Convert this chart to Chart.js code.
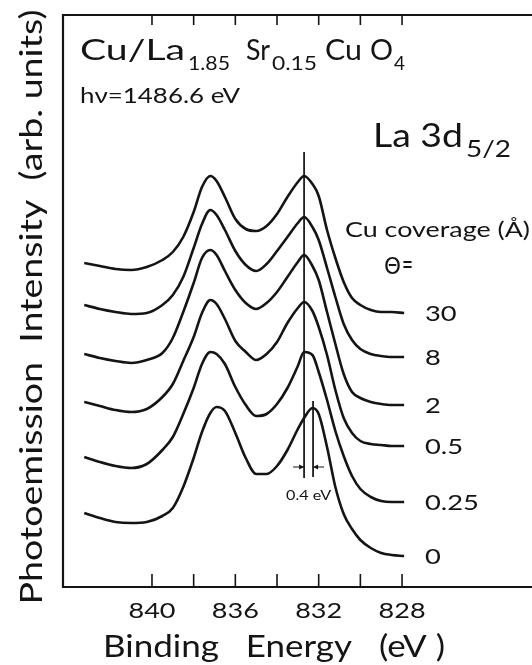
<!DOCTYPE html>
<html>
<head>
<meta charset="utf-8">
<script src="https://cdn.jsdelivr.net/npm/chart.js@4.4.0/dist/chart.umd.min.js"></script>
<style>
html, body { margin:0; padding:0; overflow:hidden; background:#fff; }
#wrap { width:545px; height:665px; }
</style>
</head>
<body>
<div id="wrap"><canvas id="chart"></canvas></div>
<script>
// ================= DATA =================
// binding energy grid (eV), shared by every spectrum
const energy = [843.25, 842.5, 841.75, 841.0, 840.25, 839.5, 839.0, 838.5, 838.0, 837.6,
                837.2, 836.9, 836.5, 836.0, 835.5, 835.0, 834.5, 834.0, 833.5, 833.0,
                832.7, 832.3, 832.0, 831.6, 831.2, 830.8, 830.4, 830.0, 829.5, 829.0,
                828.5, 827.9];

// Cu coverage labels, top to bottom
const coverage = ["30", "8", "2", "0.5", "0.25", "0"];

// intensity (arb. units, offset stack) for each coverage
const int30  = [324, 321, 318, 317, 320, 327, 335, 350, 375, 400, 411, 406, 390, 368, 358, 356,
                361, 373, 390, 405, 411, 403, 391, 357, 329, 305, 289, 282, 277, 275, 275, 274];
const int8   = [282, 278, 275, 273, 274, 282, 292, 310, 339, 363, 377, 372, 357, 336, 322, 316,
                323, 336, 350, 364, 370, 360, 347, 319, 290, 263, 247, 238, 233, 231, 230, 230];
const int2   = [233, 229, 226, 224, 227, 234, 249, 275, 304, 329, 337, 332, 316, 297, 284, 278,
                284, 295, 310, 325, 332, 321, 307, 275, 243, 213, 195, 189, 185, 183, 182, 182];
const int05  = [185, 181, 177, 175, 178, 190, 203, 226, 250, 274, 287, 283, 268, 246, 235, 227,
                233, 245, 264, 279, 285, 276, 260, 232, 197, 169, 154, 146, 143, 142, 141, 141];
const int025 = [130, 125, 121, 119, 123, 137, 150, 173, 199, 223, 235, 233, 223, 200, 182, 171,
                173, 183, 199, 221, 235, 232, 215, 187, 156, 131, 111,  98,  90,  86,  85,  85];
const int0   = [ 74,  69,  65,  64,  65,  71,  79, 100, 129, 155, 174, 180, 176, 154, 129, 113,
                113, 121, 137, 158, 169, 179, 173, 140, 100,  73,  58,  47,  39,  34,  32,  31];

const spectra = [int30, int8, int2, int05, int025, int0];

// axis ticks
const tickEnergies = [840, 838, 836, 834, 832, 830, 828];
const tickLabels   = ["840", "", "836", "", "832", "", "828"];

// peak shift markers (eV) and their vertical extents
const shiftRef   = 832.7;
const shiftClean = 832.27;
const refLineY   = [435, 109];
const cleanLineY = [186, 110];
const arrowY     = 120;
const shiftText  = "0.4 eV";

// ================= CHART =================
const INK = "#141414";
const FONT = 'Lato, "Liberation Sans", Arial, sans-serif';

function put(ctx, str, x, y, size, opts = {}){
    ctx.save();
    ctx.font = (opts.weight || 400) + " " + size + "px " + (opts.family || FONT);
    ctx.textAlign = "left";
    ctx.textBaseline = opts.base || "alphabetic";
    const w = ctx.measureText(str).width;
    let sx = opts.sx || 1;
    if(opts.width) sx = opts.width / w;
    ctx.translate(x, y);
    if(opts.rot) ctx.rotate(opts.rot);
    ctx.scale(sx, 1);
    ctx.fillText(str, opts.align === "center" ? -w / 2 : 0, 0);
    ctx.restore();
}

function seg(ctx, x1, y1, x2, y2){
    ctx.beginPath();
    ctx.moveTo(x1, y1);
    ctx.lineTo(x2, y2);
    ctx.stroke();
}

const overlay = {
    id: "overlay",
    afterDraw(chart){
        const { ctx, chartArea: a, scales: { x, y } } = chart;
        ctx.save();
        ctx.strokeStyle = INK;
        ctx.fillStyle = INK;

        // frame
        ctx.lineWidth = 2.2;
        ctx.beginPath();
        ctx.moveTo(a.right + 10, a.top);
        ctx.lineTo(a.left, a.top);
        ctx.lineTo(a.left, a.bottom);
        ctx.lineTo(a.right + 10, a.bottom);
        ctx.stroke();

        // inward ticks + labels
        ctx.lineWidth = 1.6;
        tickEnergies.forEach((e, i) => {
            const px = x.getPixelForValue(e);
            seg(ctx, px, a.bottom, px, a.bottom - 13);
            seg(ctx, px, a.top, px, a.top + 10);
            if(tickLabels[i]) put(ctx, tickLabels[i], px, 618, 21, { align: "center", width: 47 });
        });

        // axis titles
        put(ctx, "Binding   Energy   (eV )", 274, 657, 30, { align: "center", width: 342 });
        put(ctx, "Photoemission  Intensity  (arb. units)", 42, 307, 31,
            { align: "center", width: 595, rot: -Math.PI / 2 });

        // sample title
        put(ctx, "Cu/La", 80, 60, 28, { width: 105 });
        put(ctx, "1.85", 188, 70, 20, { width: 42 });
        put(ctx, "Sr", 246, 60, 28, { width: 24 });
        put(ctx, "0.15", 272, 70, 20, { width: 45 });
        put(ctx, "Cu", 325, 60, 28, { width: 37 });
        put(ctx, "O", 370, 60, 28, { width: 23 });
        put(ctx, "4", 394, 70, 20, { width: 11 });
        put(ctx, "h\u03bd=1486.6 eV", 80, 103, 21, { width: 160 });

        put(ctx, "La 3d", 373, 147, 33, { width: 90 });
        put(ctx, "5/2", 466, 157, 23, { width: 45 });

        put(ctx, "Cu coverage (\u00c5)", 345, 237, 21, { width: 185 });
        put(ctx, "\u0398", 384, 274, 23, { width: 17, family: '"DejaVu Sans", sans-serif' });
        put(ctx, "=", 402, 272, 23, { width: 11, family: '"DejaVu Sans", sans-serif' });

        // coverage labels at the tail of each spectrum
        spectra.forEach((s, i) => {
            const py = y.getPixelForValue(s[s.length - 1]);
            put(ctx, coverage[i], x.getPixelForValue(826.9), py + 1, 21, { base: "middle", sx: 1.3 });
        });

        // 0.4 eV arrows
        ctx.lineWidth = 1;
        const ay = y.getPixelForValue(arrowY);
        const xr = x.getPixelForValue(shiftRef);
        const xc = x.getPixelForValue(shiftClean);
        seg(ctx, xr - 11, ay, xr, ay);
        seg(ctx, xc, ay, xc + 11, ay);
        ctx.beginPath();
        ctx.moveTo(xr, ay); ctx.lineTo(xr - 5, ay - 2.5); ctx.lineTo(xr - 5, ay + 2.5); ctx.closePath();
        ctx.moveTo(xc, ay); ctx.lineTo(xc + 5, ay - 2.5); ctx.lineTo(xc + 5, ay + 2.5); ctx.closePath();
        ctx.fill();
        put(ctx, shiftText, (xr + xc) / 2, y.getPixelForValue(92), 14, { align: "center", base: "middle", width: 45 });

        ctx.restore();
    }
};

const datasets = spectra.map((s, i) => ({
    label: "\u0398 = " + coverage[i],
    data: energy.map((e, j) => ({ x: e, y: s[j] })),
    borderColor: INK,
    borderWidth: 2.6,
    pointRadius: 0,
    cubicInterpolationMode: "monotone",
    fill: false
}));

datasets.push({
    label: "ref",
    data: refLineY.map(v => ({ x: shiftRef, y: v })),
    borderColor: INK, borderWidth: 1, pointRadius: 0
});
datasets.push({
    label: "clean",
    data: cleanLineY.map(v => ({ x: shiftClean, y: v })),
    borderColor: INK, borderWidth: 1, pointRadius: 0
});

const ctx = document.getElementById("chart").getContext("2d");
new Chart(ctx, {
    type: "line",
    data: { datasets },
    options: {
        responsive: true,
        maintainAspectRatio: false,
        animation: false,
        layout: { padding: { left: 63, top: 15, right: 0, bottom: 78 } },
        plugins: { legend: { display: false }, tooltip: { enabled: false } },
        scales: {
            x: { type: "linear", reverse: true, min: 821.14, max: 844.27, display: false },
            y: { type: "linear", min: 0, max: 572, display: false }
        }
    },
    plugins: [overlay]
});
</script>
</body>
</html>
